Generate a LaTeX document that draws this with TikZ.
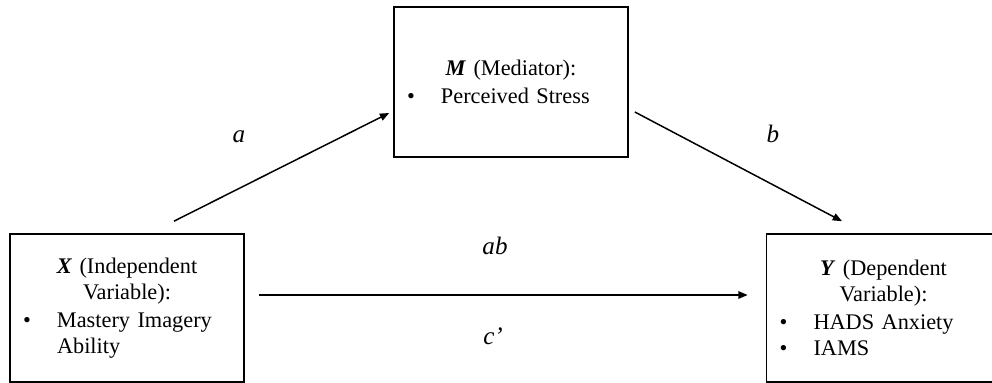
\documentclass[tikz,border=0pt]{standalone}
\usepackage{fontspec}
\setmainfont{Liberation Serif}
\usetikzlibrary{arrows.meta}
\newcommand{\listpt}[1]{\par\noindent\hangindent=18.3pt\hangafter=1\makebox[18.3pt][l]{\textbullet}#1\par}
\newcommand{\varhead}[1]{{\centering #1\par}\vspace{1.6pt}}

\begin{document}
\begin{tikzpicture}[x=0.538pt,y=-0.538pt,
    varbox/.style={draw=black, line width=0.9pt, minimum width=125.9pt, minimum height=79.6pt,
      inner xsep=7pt, text width=111.9pt, font=\fontsize{12}{13.7}\selectfont},
    pathlbl/.style={anchor=base, font=\fontsize{13.5}{16}\selectfont\itshape},
    arr/.style={line width=0.8pt, -{Triangle[length=5pt,width=4pt]}}]
        \useasboundingbox (0,0) rectangle (992,383);
        % the three variables
        \node[varbox, minimum height=80.7pt] (m) at (511,82)
          {\varhead{\textbf{\textit{M}} (Mediator):}\listpt{Perceived Stress}};
        \node[varbox] (x) at (127,308)
          {\varhead{\textbf{\textit{X}} (Independent\\Variable):}\listpt{Mastery Imagery\newline Ability}};
        \node[varbox] (y) at (883.5,308)
          {\varhead{\textbf{\textit{Y}} (Dependent\\Variable):}\listpt{HADS Anxiety}\listpt{IAMS}};
        % paths
        \draw[arr] ([shift={(47,-12)}]x.north) -- ([shift={(-4,31)}]m.west);
        \draw[arr] ([shift={(6,30)}]m.east) -- ([shift={(-41.5,-12)}]y.north);
        \draw[arr] ([shift={(14,-13)}]x.east) -- ([shift={(-18,-13)}]y.west);
        \node[pathlbl] (la) at (239,143) {a};
        \node[pathlbl] (lb) at (773,143) {b};
        \node[pathlbl] (lab) at (495,255) {ab};
        \node[pathlbl] (lc) at (493,345) {c’};
      \end{tikzpicture}
\end{document}
